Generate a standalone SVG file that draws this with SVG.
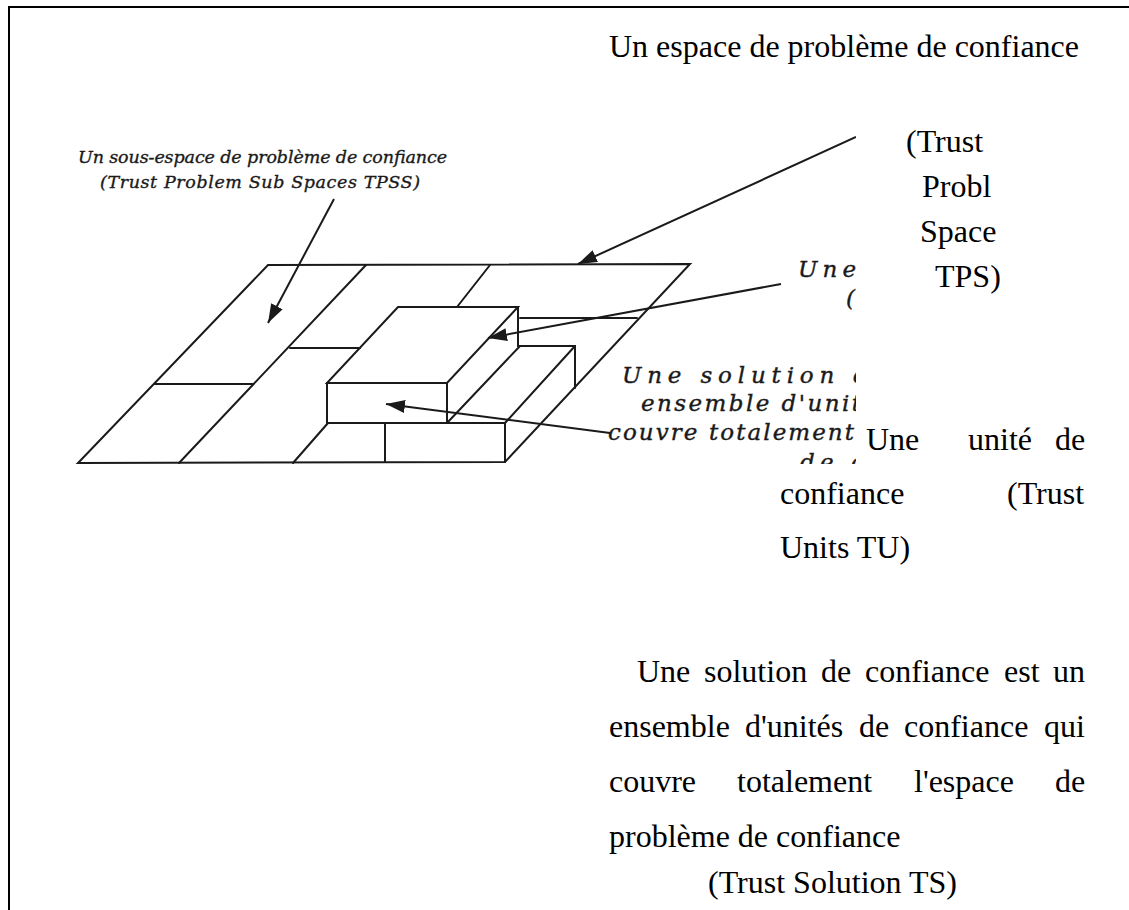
<svg xmlns="http://www.w3.org/2000/svg" width="1129" height="910" viewBox="0 0 1129 910">
<style>
.ln{fill:none;stroke:#1a1a1a;stroke-width:2;stroke-linejoin:miter;stroke-linecap:round}
.ar{fill:none;stroke:#1a1a1a;stroke-width:2;marker-end:url(#ah)}
.it{font-family:"DejaVu Serif","Liberation Serif",serif;font-style:italic;font-size:17.5px;fill:#1a1a1a;stroke:#1a1a1a;stroke-width:0.35}
.it2{font-family:"DejaVu Serif","Liberation Serif",serif;font-style:italic;font-size:23px;fill:#1a1a1a;stroke:#1a1a1a;stroke-width:0.4}
.tx{font-family:"Liberation Serif","Times New Roman",serif;font-size:32px;fill:#000}
.frame{fill:none;stroke:#000;stroke-width:2}
</style>
<defs>
<marker id="ah" markerUnits="userSpaceOnUse" markerWidth="20" markerHeight="13" refX="19" refY="6.5" orient="auto">
<path d="M0,0 L19,6.5 L0,13 Z" fill="#1a1a1a"/>
</marker>
<clipPath id="scan"><rect x="20" y="100" width="836" height="364"/></clipPath>
</defs>
<rect width="1129" height="910" fill="#fff"/>
<path class="frame" d="M9,910 V7 H1129"/>

<g id="figure" clip-path="url(#scan)">
<g id="plane">
<path class="ln" d="M268,265 L690,264 L505,462 L78,463 Z"/>
<path class="ln" d="M366,265 L179,463"/>
<path class="ln" d="M155,384 L253,384"/>
<path class="ln" d="M290,348 L360,348"/>
<path class="ln" d="M490,265 L457,307"/>
<path class="ln" d="M520,318 L637,318"/>
<path class="ln" d="M328,423 L293,463"/>
</g>
<g id="upper-box">
<path class="ln" d="M398,307 L518,307 L447,383 L327,383 Z"/>
<path class="ln" d="M327,383 L327,423 L505,423"/>
<path class="ln" d="M447,383 L447,423"/>
<path class="ln" d="M518,307 L518,346"/>
<path class="ln" d="M447,423 L520,346"/>
</g>
<g id="lower-box">
<path class="ln" d="M518,346 L575,346 L575,388"/>
<path class="ln" d="M575,346 L505,423 L505,462"/>
<path class="ln" d="M385,423 L385,462"/>
</g>
<g id="connectors">
<path class="ar" d="M334,199 L268,323"/>
<path class="ar" d="M856,137 L578,264"/>
<path class="ar" d="M781,284 L488,338"/>
<path class="ar" d="M610,433 L386,404"/>
</g>
<g id="label-tpss">
<text class="it" x="78" y="163" textLength="369" lengthAdjust="spacing">Un sous-espace de problème de confiance</text>
<text class="it" x="100" y="188" textLength="320" lengthAdjust="spacing">(Trust Problem Sub Spaces TPSS)</text>
</g>
<g id="label-tu-scan">
<text class="it2" x="798" y="277" textLength="58" lengthAdjust="spacing">Une</text>
<text class="it2" x="846" y="306">(</text>
</g>
<g id="label-ts-scan">
<text class="it2" x="622" y="383" textLength="246" lengthAdjust="spacing">Une solution d</text>
<text class="it2" x="641" y="411" textLength="220" lengthAdjust="spacing">ensemble d'unit</text>
<text class="it2" x="608" y="440" textLength="246" lengthAdjust="spacing">couvre totalement</text>
<text class="it2" x="800" y="470" textLength="64" lengthAdjust="spacing">de c</text>
</g>
</g>

<g id="text-tps">
<text class="tx" x="609" y="57">Un espace de problème de confiance</text>
<text class="tx" x="906" y="152">(Trust</text>
<text class="tx" x="922" y="197">Probl</text>
<text class="tx" x="920" y="242">Space</text>
<text class="tx" x="935" y="287">TPS)</text>
</g>
<g id="text-tu">
<text class="tx" y="450"><tspan x="866">Une</tspan><tspan x="968">unité</tspan><tspan x="1055">de</tspan></text>
<text class="tx" y="504"><tspan x="780">confiance</tspan><tspan x="1007">(Trust</tspan></text>
<text class="tx" x="780" y="558">Units TU)</text>
</g>
<g id="text-ts">
<text class="tx" y="682"><tspan x="637">Une</tspan><tspan x="704">solution</tspan><tspan x="821">de</tspan><tspan x="865">confiance</tspan><tspan x="1004">est</tspan><tspan x="1053">un</tspan></text>
<text class="tx" y="737"><tspan x="609">ensemble</tspan><tspan x="745">d'unités</tspan><tspan x="859">de</tspan><tspan x="904">confiance</tspan><tspan x="1044">qui</tspan></text>
<text class="tx" y="792"><tspan x="609">couvre</tspan><tspan x="737">totalement</tspan><tspan x="914">l'espace</tspan><tspan x="1055">de</tspan></text>
<text class="tx" x="609" y="847">problème de confiance</text>
<text class="tx" x="708" y="893">(Trust Solution TS)</text>
</g>
</svg>
